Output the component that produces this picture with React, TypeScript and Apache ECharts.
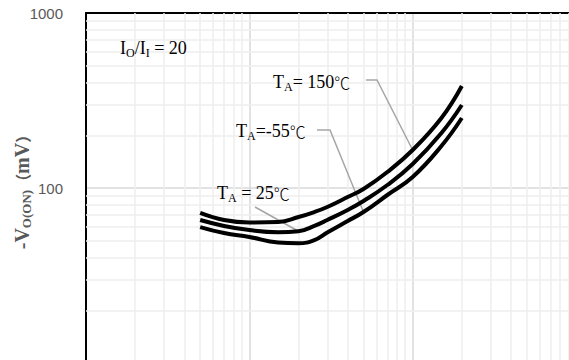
import React, { useEffect, useRef } from 'react';
import * as echarts from 'echarts';

// Output current (arbitrary log units, 3 decades shown: 1 .. 1000)
const currents = [5, 7, 10, 15, 20, 25, 30, 40, 50, 70, 100, 150, 200];
// -V_O(ON) in mV
const vTa150 = [72.0, 65.6, 63.5, 63.9, 68.3, 72.9, 77.9, 88.8, 98.7, 123.4, 164.9, 251.2, 382.7];
const vTa25 = [65.6, 60.7, 57.5, 55.9, 56.6, 60.7, 65.6, 74.9, 84.3, 104.0, 137.1, 206.2, 298.1];
const vTaM55 = [59.8, 55.3, 52.5, 48.8, 48.3, 50.4, 55.7, 64.8, 72.9, 91.2, 115.6, 173.8, 251.2];

const xMinorGrid = [2, 3, 4, 5, 6, 7, 8, 9, 20, 30, 40, 50, 60, 70, 80, 90, 200, 300, 400, 500, 600, 700, 800, 900];
const yMinorGrid = [20, 30, 40, 50, 60, 70, 80, 90, 200, 300, 400, 500, 600, 700, 800, 900];

const X_MIN = 1;
const X_MAX = 1000;
const Y_MIN = 10;
const Y_MAX = 1000;

const SERIF = "'Liberation Serif', 'Times New Roman', serif";
const SANS = "'Liberation Sans', Arial, sans-serif";
const CJK = "'Noto Sans CJK SC', sans-serif";

const annRich = {
  t: { fontFamily: SERIF, fontSize: 18, color: '#000', lineHeight: 22 },
  s: { fontFamily: SERIF, fontSize: 12, color: '#000', lineHeight: 12, verticalAlign: 'bottom' },
  c: { fontFamily: CJK, fontSize: 16, fontWeight: 300, color: '#000', lineHeight: 22 },
};

export default function App() {
  const ref = useRef<HTMLDivElement>(null);

  useEffect(() => {
    if (!ref.current) return;
    const chart = echarts.init(ref.current, undefined, { renderer: 'svg' });

    const curve = (name: string, vals: number[]) => ({
      name,
      type: 'line',
      data: currents.map((c, i) => [c, vals[i]]),
      smooth: 0.45,
      showSymbol: false,
      z: 5,
      lineStyle: { color: '#000', width: 4 },
      itemStyle: { color: '#000' },
    });

    chart.setOption({
      animation: false,
      grid: { left: 86, top: 13, width: 490, height: 350, outerBoundsMode: 'none', containLabel: false },
      xAxis: [
        {
          type: 'log',
          logBase: 10,
          min: X_MIN,
          max: X_MAX,
          axisLabel: { show: false },
          axisTick: { show: false },
          axisLine: { show: true, lineStyle: { color: '#000', width: 2 } },
          splitLine: { show: true, showMinLine: false, lineStyle: { color: '#d9d9d9', width: 1.5 } },
        },
        {
          type: 'log',
          logBase: 10,
          min: X_MIN,
          max: X_MAX,
          position: 'top',
          axisLabel: { show: false },
          axisTick: { show: false },
          axisLine: { show: true, lineStyle: { color: '#000', width: 2 } },
          splitLine: { show: false },
        },
      ],
      yAxis: {
        type: 'log',
        logBase: 10,
        min: Y_MIN,
        max: Y_MAX,
        axisTick: { show: false },
        axisLine: { show: true, lineStyle: { color: '#000', width: 2 } },
        axisLabel: {
          color: '#595959', fontSize: 15, fontFamily: SANS, margin: 23,
          showMinLabel: false,
          formatter: (v: number) => String(Math.round(v)),
        },
        splitLine: { show: true, showMaxLine: false, lineStyle: { color: '#d9d9d9', width: 1.5 } },
        name: '{b|-V}{s|O(ON)}{p|（}{b|mV}{p|）}',
        nameLocation: 'middle',
        nameGap: 53,
        nameMoveOverlap: false,
        nameTextStyle: {
          rich: {
            b: { fontFamily: SERIF, fontSize: 20, fontWeight: 'bold', color: '#595959', lineHeight: 22 },
            s: { fontFamily: SERIF, fontSize: 13, fontWeight: 'bold', color: '#595959', lineHeight: 12, verticalAlign: 'bottom' },
            p: { fontFamily: CJK, fontSize: 16, fontWeight: 'bold', color: '#595959', lineHeight: 22 },
          },
        },
      },
      series: [
        {
          type: 'line',
          data: [],
          z: 1,
          silent: true,
          markLine: {
            silent: true,
            symbol: 'none',
            animation: false,
            z: 1,
            label: { show: false },
            emphasis: { disabled: true },
            lineStyle: { color: '#eeeeee', width: 1.5, type: 'solid' },
            data: [
              ...xMinorGrid.map((v) => ({ xAxis: v })),
              ...yMinorGrid.map((v) => ({ yAxis: v })),
            ],
          },
        },
        curve('TA = 150℃', vTa150),
        curve('TA = 25℃', vTa25),
        curve('TA = -55℃', vTaM55),
      ],
    });

    const p150 = chart.convertToPixel({ gridIndex: 0 }, [currents[10], vTa150[10]]) as number[];
    const pM55 = chart.convertToPixel({ gridIndex: 0 }, [currents[8], vTaM55[8]]) as number[];
    const p25 = chart.convertToPixel({ gridIndex: 0 }, [currents[4], vTa25[4]]) as number[];

    const leader = { stroke: '#a6a6a6', lineWidth: 1.5, fill: null };

    chart.setOption({
      graphic: [
        {
          type: 'text', x: 120, y: 48, z: 10,
          style: { text: '{t|I}{s|O}{t|/I}{s|I}{t| = 20}', rich: annRich, verticalAlign: 'middle', align: 'left' },
        },
        {
          type: 'text', x: 273, y: 82, z: 10,
          style: { text: '{t|T}{s|A}{t|= 150}{c|℃}', rich: annRich, verticalAlign: 'middle', align: 'left' },
        },
        {
          type: 'text', x: 236, y: 131, z: 10,
          style: { text: '{t|T}{s|A}{t|=-55}{c|℃}', rich: annRich, verticalAlign: 'middle', align: 'left' },
        },
        {
          type: 'text', x: 217, y: 193, z: 10,
          style: { text: '{t|T}{s|A}{t| = 25}{c|℃}', rich: annRich, verticalAlign: 'middle', align: 'left' },
        },
        {
          type: 'polyline', z: 4,
          shape: { points: [[366, 80], [377, 80], [p150[0], p150[1]]] },
          style: leader,
        },
        {
          type: 'polyline', z: 4,
          shape: { points: [[317, 130], [330, 130], [pM55[0], pM55[1]]] },
          style: leader,
        },
        {
          type: 'polyline', z: 4,
          shape: { points: [[255, 207], [p25[0], p25[1]]] },
          style: leader,
        },
      ],
    });

    return () => chart.dispose();
  }, []);

  return (
    <div
      ref={ref}
      style={{ position: 'fixed', left: 0, top: 0, width: 600, height: 400, background: '#fff' }}
    />
  );
}
